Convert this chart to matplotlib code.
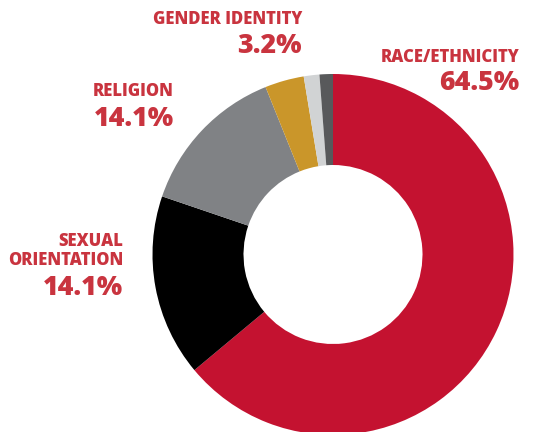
import matplotlib
matplotlib.use("Agg")
import matplotlib.pyplot as plt

# Data (slice sizes; label texts as printed)
categories = ["Race/Ethnicity", "Sexual Orientation", "Religion", "Gender Identity", "Other A", "Other B"]
slice_values = [64.0, 16.3, 13.7, 3.5, 1.4, 1.2]
colors = ["#C41230", "#000000", "#808285", "#CA962A", "#D1D3D4", "#58595B"]

label_names = ["RACE/ETHNICITY", "SEXUAL\nORIENTATION", "RELIGION", "GENDER IDENTITY"]
label_pcts = ["64.5%", "14.1%", "14.1%", "3.2%"]

W, H = 534, 432
fig = plt.figure(figsize=(W / 100, H / 100), dpi=100)
ax = fig.add_axes([0, 0, 1, 1])

cx, cy = 333, H - 254.5
R = 180.5
ax.pie(slice_values, colors=colors, startangle=90, counterclock=False,
       center=(cx, cy), radius=R,
       wedgeprops=dict(width=R - 89.5, linewidth=0))
ax.set_xlim(0, W)
ax.set_ylim(0, H)
ax.set_aspect("equal")
ax.axis("off")

tc = "#C9343F"
font = "Open Sans"
name_size = 12
pct_size = 19.3

# (right x, y of name center, y of pct center) in pixel coords from top
positions = [
    (519, 57, 83),     # race
    (123, 251, 288),   # sexual orientation
    (174, 92, 119),    # religion
    (302, 19, 46),     # gender identity
]
for (name, pct, (rx, yn, yp)) in zip(label_names, label_pcts, positions):
    ax.text(rx, H - yn, name, ha="right", va="center", color=tc,
            fontsize=name_size, fontweight=800, family=font,
            linespacing=1.1, multialignment="right")
    ax.text(rx, H - yp, pct, ha="right", va="center", color=tc,
            fontsize=pct_size, fontweight=800, family=font)

fig.savefig("out.png", dpi=100)
